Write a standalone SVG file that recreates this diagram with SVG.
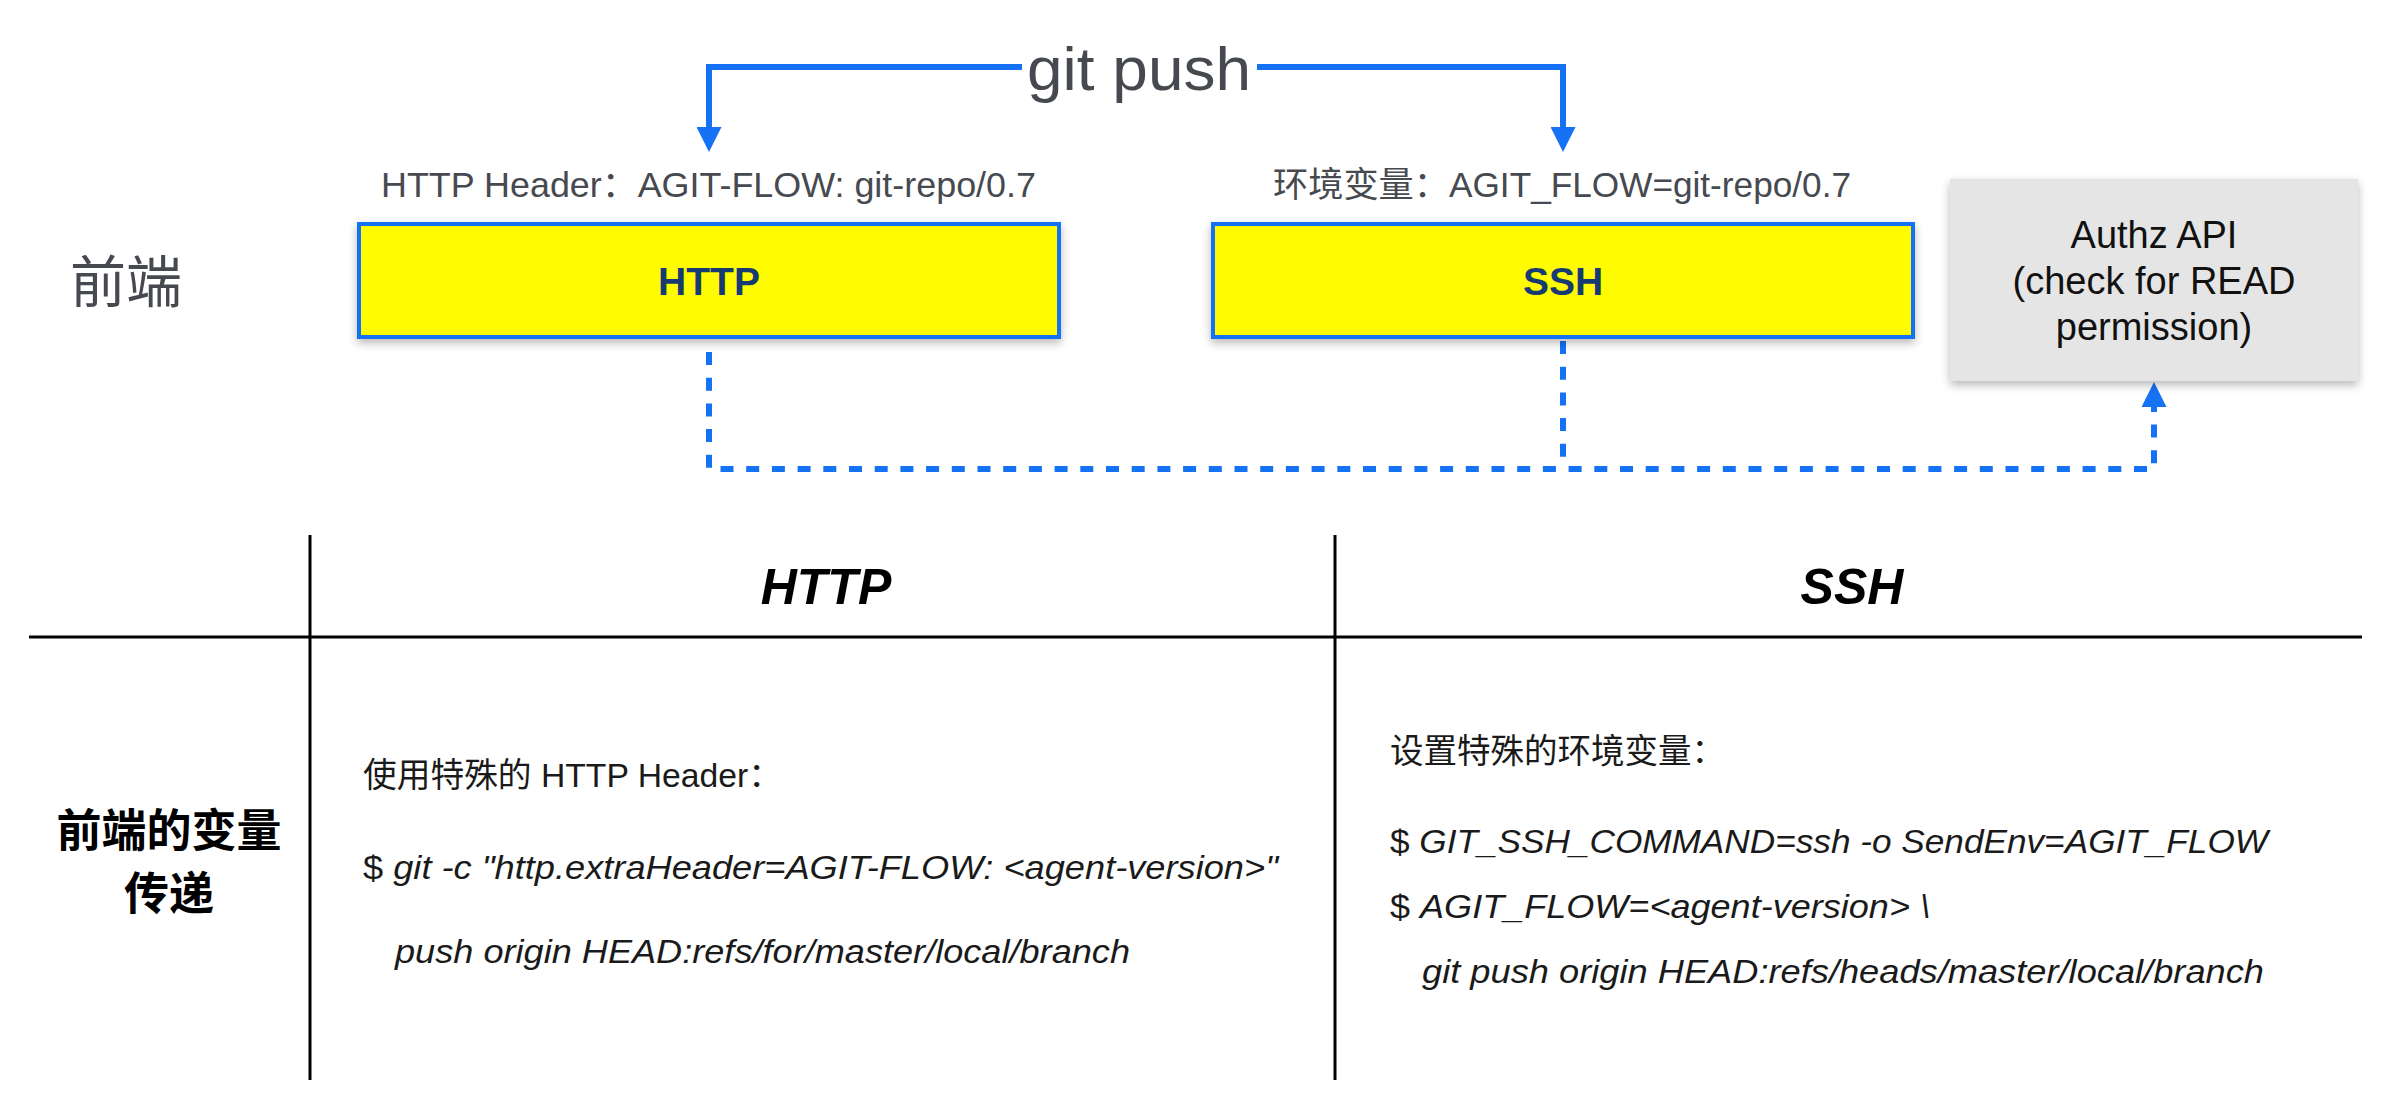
<svg xmlns="http://www.w3.org/2000/svg" width="2392" height="1100" viewBox="0 0 2392 1100">
<style>
  .lbl{font-family:"Liberation Sans","Noto Sans CJK SC",sans-serif;fill:#464a50}
  .box{fill:#fffb00;stroke:#1672f5;stroke-width:4}
  .boxtxt{font-family:"Liberation Sans","Noto Sans CJK SC",sans-serif;font-weight:bold;font-size:39px;fill:#163a72;text-anchor:middle}
  .conn{fill:none;stroke:#1672f5;stroke-width:6}
  .dash{stroke-dasharray:13 12.7}
  .grid{stroke:#000;stroke-width:3;fill:none}
  .th{font-family:"Liberation Sans","Noto Sans CJK SC",sans-serif;font-weight:bold;font-style:italic;font-size:50px;fill:#000;text-anchor:middle}
  .td{font-family:"Liberation Sans","Noto Sans CJK SC",sans-serif;font-size:34px;fill:#1a1a1a}
  .it{font-style:italic}
</style>
<defs>
  <filter id="sh" x="-10%" y="-20%" width="120%" height="150%">
    <feDropShadow dx="0" dy="4" stdDeviation="5" flood-color="#000" flood-opacity="0.28"/>
  </filter>
  <marker id="arr" viewBox="0 0 25 25" markerWidth="25" markerHeight="25" refX="0" refY="12.5" orient="auto-start-reverse" markerUnits="userSpaceOnUse">
    <path d="M0 0 L25 12.5 L0 25 Z" fill="#1672f5"/>
  </marker>
</defs>
<rect width="2392" height="1100" fill="#fff"/>

<g id="connectors">
  <path class="conn" d="M709 127 V67 H1563 V127" marker-start="url(#arr)" marker-end="url(#arr)"/>
  <rect x="1022" y="30" width="235" height="80" fill="#fff"/>
  <text class="lbl" x="1139" y="90" font-size="62" text-anchor="middle" textLength="224" lengthAdjust="spacingAndGlyphs">git push</text>
  <path class="conn dash" d="M709 352 V469 H2154 V407" marker-end="url(#arr)"/>
  <path class="conn dash" d="M1563 341 V469"/>
</g>

<g id="frontend-label">
  <text class="lbl" x="70" y="302" font-size="56">前端</text>
</g>

<g id="http-node">
  <text class="lbl" x="381" y="197" font-size="35" textLength="655" lengthAdjust="spacingAndGlyphs">HTTP Header：AGIT-FLOW: git-repo/0.7</text>
  <rect class="box" x="359" y="224" width="700" height="113" filter="url(#sh)"/>
  <text class="boxtxt" x="709" y="295">HTTP</text>
</g>

<g id="ssh-node">
  <text class="lbl" x="1273" y="197" font-size="35" textLength="578" lengthAdjust="spacingAndGlyphs">环境变量：AGIT_FLOW=git-repo/0.7</text>
  <rect class="box" x="1213" y="224" width="700" height="113" filter="url(#sh)"/>
  <text class="boxtxt" x="1563" y="295">SSH</text>
</g>

<g id="authz-node">
  <rect x="1950" y="179" width="408" height="202" fill="#e5e5e5" filter="url(#sh)"/>
  <g font-family="'Liberation Sans','Noto Sans CJK SC',sans-serif" font-size="38" fill="#111" text-anchor="middle">
    <text x="2154" y="248">Authz API</text>
    <text x="2154" y="294">(check for READ</text>
    <text x="2154" y="340">permission)</text>
  </g>
</g>

<g id="table">
  <line class="grid" x1="29" y1="637" x2="2362" y2="637"/>
  <line class="grid" x1="310" y1="535" x2="310" y2="1080"/>
  <line class="grid" x1="1335" y1="535" x2="1335" y2="1080"/>
  <text class="th" x="826" y="604">HTTP</text>
  <text class="th" x="1852" y="604">SSH</text>
  <g font-family="'Liberation Sans','Noto Sans CJK SC',sans-serif" font-weight="bold" font-size="45" fill="#000" text-anchor="middle">
    <text x="169" y="847">前端的变量</text>
    <text x="169" y="910">传递</text>
  </g>
  <text class="td" x="363" y="787" textLength="419" lengthAdjust="spacingAndGlyphs">使用特殊的 HTTP Header：</text>
  <text class="td" x="363" y="879" textLength="915" lengthAdjust="spacingAndGlyphs">$ <tspan class="it">git -c "http.extraHeader=AGIT-FLOW: &lt;agent-version&gt;"</tspan></text>
  <text class="td it" x="395" y="963" textLength="735" lengthAdjust="spacingAndGlyphs">push origin HEAD:refs/for/master/local/branch</text>
  <text class="td" x="1390" y="763" textLength="335" lengthAdjust="spacingAndGlyphs">设置特殊的环境变量：</text>
  <text class="td" x="1390" y="853" textLength="878" lengthAdjust="spacingAndGlyphs">$ <tspan class="it">GIT_SSH_COMMAND=ssh -o SendEnv=AGIT_FLOW</tspan></text>
  <text class="td" x="1390" y="918" textLength="540" lengthAdjust="spacingAndGlyphs">$ <tspan class="it">AGIT_FLOW=&lt;agent-version&gt; \</tspan></text>
  <text class="td it" x="1422" y="983" textLength="842" lengthAdjust="spacingAndGlyphs">git push origin HEAD:refs/heads/master/local/branch</text>
</g>
</svg>
